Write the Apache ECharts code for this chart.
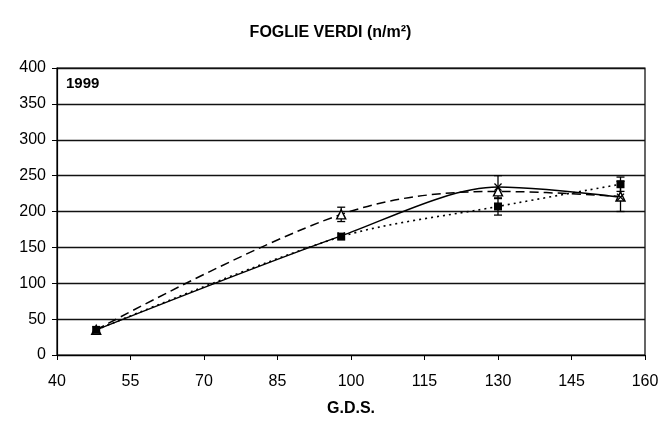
<!DOCTYPE html>
<html>
<head>
<meta charset="utf-8">
<script src="https://cdn.jsdelivr.net/npm/echarts@6/dist/echarts.min.js"></script>
<style>
  html, body { margin: 0; padding: 0; background: #fff; }
  #chart { width: 661px; height: 423px; }
</style>
</head>
<body>
<div id="chart"></div>
<script>
// Growing degree sums (G.D.S.) at each sampling date
const gds = [48, 98, 130, 155];

// Green leaves per square metre, one list per treatment
const solidValues = [35, 166, 234, 220];
const dashedValues = [35, 196, 228, 221];
const dottedValues = [35, 165, 207, 238];

// Half-width of the error bars (0 = none drawn)
const solidErr = [0, 0, 16, 0];
const dashedErr = [0, 10, 0, 21];
const dottedErr = [0, 0, 12, 10];

// Axis ticks
const xTicks = [40, 55, 70, 85, 100, 115, 130, 145, 160];
const yMin = 0, yMax = 400, yStep = 50;

const pairs = (vals) => gds.map((x, i) => [x, vals[i]]);
const bars = (vals, errs) => gds
  .map((x, i) => [x, vals[i] - errs[i], vals[i] + errs[i]])
  .filter((d, i) => errs[i] > 0);

const errorData = [].concat(
  bars(solidValues, solidErr),
  bars(dashedValues, dashedErr),
  bars(dottedValues, dottedErr)
);

const crossSymbol = 'path://M0,1.2L1.2,0L5,3.8L8.8,0L10,1.2L6.2,5L10,8.8L8.8,10L5,6.2L1.2,10L0,8.8L3.8,5Z';
const boldFont = '"Liberation Sans Narrow", "Liberation Sans", Arial';

const chart = echarts.init(document.getElementById('chart'), null, { renderer: 'canvas' });

chart.setOption({
  animation: false,
  backgroundColor: '#fff',
  title: {
    text: 'FOGLIE VERDI (n/m²)',
    left: 'center',
    top: 20,
    textStyle: { fontFamily: boldFont, fontWeight: 'bold', fontSize: 16, color: '#000' }
  },
  graphic: [{
    type: 'text',
    left: 66,
    top: 76,
    style: { text: '1999', font: 'bold 15px ' + boldFont, fill: '#000' }
  }],
  grid: {
    left: 57, right: 16, top: 68, bottom: 68,
    outerBoundsMode: 'none',
    containLabel: false,
    show: true, borderColor: '#000', borderWidth: 1.2, backgroundColor: '#fff'
  },
  xAxis: {
    type: 'value',
    min: 40, max: 160,
    name: 'G.D.S.',
    nameLocation: 'middle',
    nameGap: 46,
    nameTextStyle: { fontFamily: boldFont, fontWeight: 'bold', fontSize: 16, color: '#000' },
    axisLine: { lineStyle: { color: '#000', width: 1.2 } },
    axisTick: { show: true, length: 5, customValues: xTicks, lineStyle: { color: '#000' } },
    axisLabel: { customValues: xTicks, margin: 19, fontFamily: 'Liberation Sans, Arial', fontSize: 16, color: '#000' },
    splitLine: { show: false }
  },
  yAxis: {
    type: 'value',
    min: yMin, max: yMax, interval: yStep,
    axisLine: { show: true, lineStyle: { color: '#000', width: 1.2 } },
    axisTick: { show: true, length: 5, lineStyle: { color: '#000' } },
    axisLabel: { margin: 11, fontFamily: 'Liberation Sans, Arial', fontSize: 16, color: '#000' },
    splitLine: { show: true, lineStyle: { color: '#111', width: 1.4 } }
  },
  series: [
    {
      type: 'custom',
      z: 1,
      data: errorData,
      renderItem: function (params, api) {
        const x = api.value(0);
        const lo = api.coord([x, api.value(1)]);
        const hi = api.coord([x, api.value(2)]);
        const cap = 4;
        const style = { stroke: '#000', lineWidth: 1.3 };
        return {
          type: 'group',
          children: [
            { type: 'line', shape: { x1: lo[0], y1: lo[1], x2: hi[0], y2: hi[1] }, style },
            { type: 'line', shape: { x1: lo[0] - cap, y1: lo[1], x2: lo[0] + cap, y2: lo[1] }, style },
            { type: 'line', shape: { x1: hi[0] - cap, y1: hi[1], x2: hi[0] + cap, y2: hi[1] }, style }
          ]
        };
      }
    },
    {
      type: 'line',
      z: 3,
      data: pairs(dashedValues),
      smooth: 0.35,
      symbol: 'triangle',
      symbolSize: 9,
      showAllSymbol: true,
      lineStyle: { color: '#000', width: 1.5, type: [9, 5] },
      itemStyle: { color: '#fff', borderColor: '#000', borderWidth: 1.4 }
    },
    {
      type: 'line',
      z: 3,
      data: pairs(solidValues),
      smooth: 0.3,
      symbol: crossSymbol,
      symbolSize: 8,
      showAllSymbol: true,
      lineStyle: { color: '#000', width: 1.5, type: 'solid' },
      itemStyle: { color: '#000' }
    },
    {
      type: 'line',
      z: 3,
      data: pairs(dottedValues),
      smooth: 0.3,
      symbol: 'rect',
      symbolSize: 8,
      showAllSymbol: true,
      lineStyle: { color: '#000', width: 1.6, type: [2, 4] },
      itemStyle: { color: '#000' }
    }
  ]
});
</script>
</body>
</html>
